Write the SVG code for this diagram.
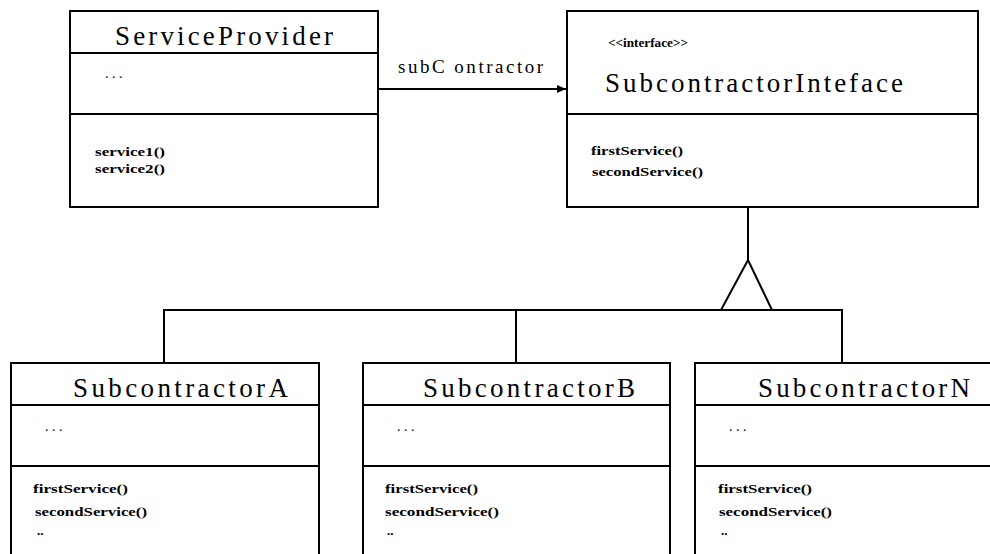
<svg xmlns="http://www.w3.org/2000/svg" width="990" height="554" viewBox="0 0 990 554">
<style>
.box{fill:#fff;stroke:#000;stroke-width:2}
.ln{stroke:#000;stroke-width:2;fill:none}
.title{font-family:"Liberation Serif",serif;font-size:27px;fill:#000}
.m{font-family:"Liberation Serif",serif;font-size:13px;font-weight:bold;fill:#000}
.dots{font-family:"Liberation Serif",serif;font-size:14px;fill:#000}
.lbl{font-family:"Liberation Serif",serif;font-size:19px;fill:#000}
.st{font-family:"Liberation Serif",serif;font-size:12px;font-weight:bold;fill:#000}
</style>
<defs>
<marker id="arr" markerWidth="10" markerHeight="8" refX="9" refY="4" orient="auto" markerUnits="userSpaceOnUse">
<path d="M0,0 L9,4 L0,8 Z" fill="#000"/>
</marker>
</defs>
<rect width="990" height="554" fill="#fff"/>
<g id="connectors">
<line class="ln" x1="379" y1="89" x2="566" y2="89" marker-end="url(#arr)"/>
<text class="lbl" x="398" y="73" textLength="145" lengthAdjust="spacing">subC ontractor</text>
<line class="ln" x1="748" y1="207" x2="748" y2="260"/>
<polygon class="ln" points="748,260 721,310 772,310"/>
<polyline class="ln" points="164,363 164,310 842,310 842,363"/>
<line class="ln" x1="516" y1="310" x2="516" y2="363"/>
</g>
<g id="ServiceProvider">
<rect class="box" x="70" y="11" width="308" height="196"/>
<line class="ln" x1="70" y1="53" x2="378" y2="53"/>
<line class="ln" x1="70" y1="114" x2="378" y2="114"/>
<text class="title" x="115" y="45" textLength="218" lengthAdjust="spacing">ServiceProvider</text>
<text class="dots" x="105" y="78">. . .</text>
<text class="m" x="95" y="156" textLength="70" lengthAdjust="spacingAndGlyphs">service1()</text>
<text class="m" x="95" y="173" textLength="70" lengthAdjust="spacingAndGlyphs">service2()</text>
</g>
<g id="SubcontractorInteface">
<rect class="box" x="567" y="11" width="411" height="196"/>
<line class="ln" x1="567" y1="114" x2="978" y2="114"/>
<text class="st" x="608" y="47" textLength="80" lengthAdjust="spacingAndGlyphs">&lt;&lt;interface&gt;&gt;</text>
<text class="title" x="605" y="92" textLength="298" lengthAdjust="spacing">SubcontractorInteface</text>
<text class="m" x="591" y="155" textLength="92" lengthAdjust="spacingAndGlyphs">firstService()</text>
<text class="m" x="592" y="176" textLength="111" lengthAdjust="spacingAndGlyphs">secondService()</text>
</g>
<g id="SubcontractorA">
<rect class="box" x="11" y="363" width="308" height="240"/>
<line class="ln" x1="11" y1="405" x2="319" y2="405"/>
<line class="ln" x1="11" y1="466" x2="319" y2="466"/>
<text class="title" x="73" y="397" textLength="215" lengthAdjust="spacing">SubcontractorA</text>
<text class="dots" x="45" y="431">. . .</text>
<text class="m" x="33" y="493" textLength="95" lengthAdjust="spacingAndGlyphs">firstService()</text>
<text class="m" x="35" y="516" textLength="112" lengthAdjust="spacingAndGlyphs">secondService()</text>
<text class="m" x="37" y="535">..</text>
</g>
<g id="SubcontractorB">
<rect class="box" x="363" y="363" width="307" height="240"/>
<line class="ln" x1="363" y1="405" x2="670" y2="405"/>
<line class="ln" x1="363" y1="466" x2="670" y2="466"/>
<text class="title" x="423" y="397" textLength="212" lengthAdjust="spacing">SubcontractorB</text>
<text class="dots" x="397" y="431">. . .</text>
<text class="m" x="385" y="493" textLength="93" lengthAdjust="spacingAndGlyphs">firstService()</text>
<text class="m" x="385" y="516" textLength="114" lengthAdjust="spacingAndGlyphs">secondService()</text>
<text class="m" x="387" y="535">..</text>
</g>
<g id="SubcontractorN">
<rect class="box" x="695" y="363" width="320" height="240"/>
<line class="ln" x1="695" y1="405" x2="1000" y2="405"/>
<line class="ln" x1="695" y1="466" x2="1000" y2="466"/>
<text class="title" x="758" y="397" textLength="212" lengthAdjust="spacing">SubcontractorN</text>
<text class="dots" x="729" y="431">. . .</text>
<text class="m" x="718" y="493" textLength="94" lengthAdjust="spacingAndGlyphs">firstService()</text>
<text class="m" x="719" y="516" textLength="113" lengthAdjust="spacingAndGlyphs">secondService()</text>
<text class="m" x="721" y="535">..</text>
</g>
</svg>
